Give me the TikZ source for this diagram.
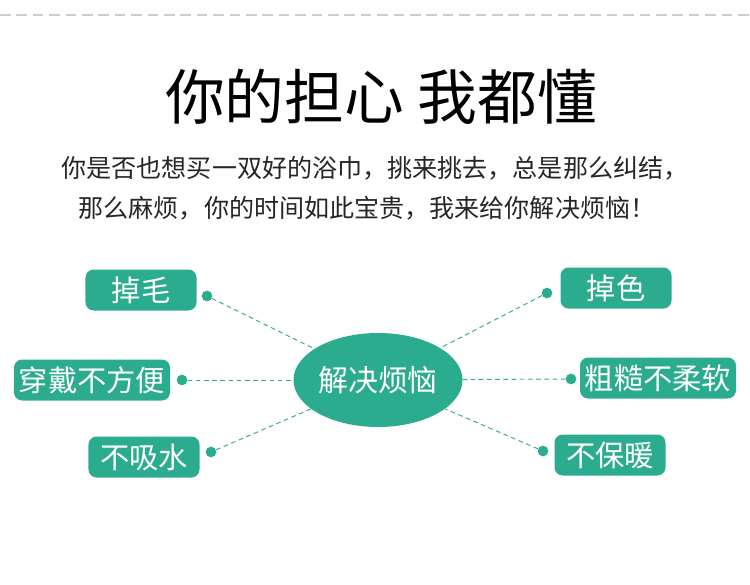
\documentclass[tikz,border=0pt]{standalone}
\usepackage{fontspec}
\usepackage{tikz}
\usetikzlibrary{positioning,shapes.geometric,calc}
\setmainfont{Noto Sans CJK SC}
\newfontfamily\cjk{Noto Sans CJK SC}
\definecolor{towelteal}{RGB}{43,172,142}
\definecolor{rulegray}{RGB}{205,205,205}

\begin{document}
\begin{tikzpicture}[
    x=0.03cm, y=-0.03cm,
    issue/.style={rectangle, rounded corners=7pt, fill=towelteal, text=white,
        minimum width=3.33cm, minimum height=1.23cm, inner sep=0pt,
        font=\cjk\fontsize{25}{27}\selectfont},
    core/.style={ellipse, fill=towelteal, text=white,
        minimum width=4.41cm, minimum height=2.82cm, inner sep=0pt,
        font=\cjk\fontsize{25.5}{27}\selectfont},
    pin/.style={circle, fill=towelteal, minimum size=0.32cm, inner sep=0pt},
    link/.style={towelteal, thick, dash pattern=on 4pt off 3pt},
    intro/.style={font=\cjk\fontsize{21.4}{25}\selectfont, text=black!85}
]
    \useasboundingbox (0,0) rectangle (750,585);

    % top rule
    \coordinate (ruleL) at (0,15);
    \coordinate (ruleR) at (750,15);
    \draw[rulegray, line width=1.7pt, dash pattern=on 9pt off 5pt] (ruleL) -- (ruleR);

    % heading and intro text
    \node[font=\cjk\fontsize{51}{54}\selectfont, text=black] (title) at (381,97) {你的担心 我都懂};
    \node[intro] (line1) at (375,168) {你是否也想买一双好的浴巾，挑来挑去，总是那么纠结，};
    \node[intro] (line2) at (367,208) {那么麻烦，你的时间如此宝贵，我来给你解决烦恼！};

    % centre
    \node[core] (worry) at (378,380) {解决烦恼};

    % left side
    \node[issue] (shed) at (141,290) {掉毛};
    \node[issue, minimum width=4.68cm] (wear) at (92,380) {穿戴不方便};
    \node[issue] (absorb) at (144,457) {不吸水};
    \node[pin] (pinShed) at (207,296) {};
    \node[pin] (pinWear) at (182,380) {};
    \node[pin] (pinAbsorb) at (211,452) {};

    % right side
    \node[issue] (fade) at (616,288) {掉色};
    \node[issue, minimum width=4.68cm] (rough) at (658,378) {粗糙不柔软};
    \node[issue] (cold) at (610,455) {不保暖};
    \node[pin] (pinFade) at (547,293) {};
    \node[pin] (pinRough) at (571,379) {};
    \node[pin] (pinCold) at (543,451) {};

    \draw[link] (pinShed) -- (worry);
    \draw[link] (pinWear) -- (worry);
    \draw[link] (pinAbsorb) -- (worry);
    \draw[link] (pinFade) -- (worry);
    \draw[link] (pinRough) -- (worry);
    \draw[link] (pinCold) -- (worry);
\end{tikzpicture}
\end{document}
